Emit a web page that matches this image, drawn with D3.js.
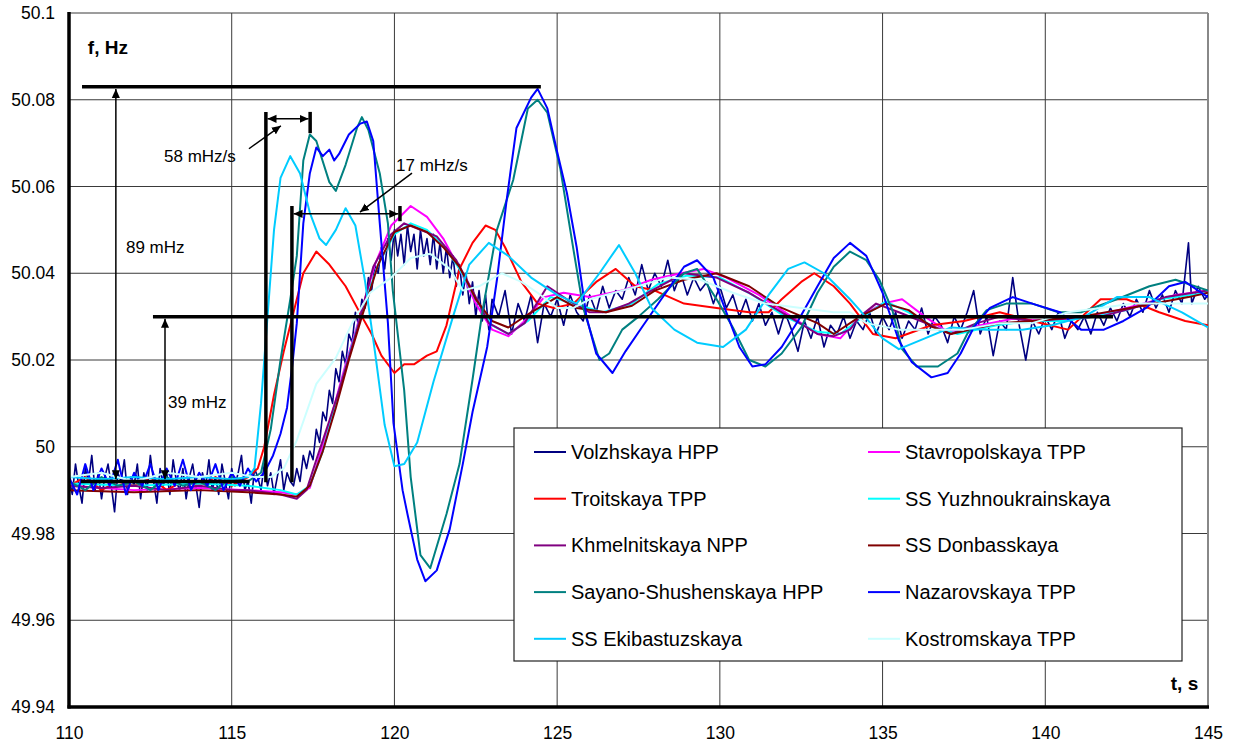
<!DOCTYPE html>
<meta charset="utf-8">
<head>
  <script src="https://d3js.org/d3.v7.min.js"></script>
  <style>
    body { margin: 0; background: #fff; font-family: Arial, "Liberation Sans", sans-serif; }
  </style>
</head>
<body>
<div id="my_dataviz"></div>
<script>

// axis ticks
var xTicks = [110, 115, 120, 125, 130, 135, 140, 145];
var xTickLabels = ["110", "115", "120", "125", "130", "135", "140", "145"];
var yTicks = [49.94, 49.96, 49.98, 50.00, 50.02, 50.04, 50.06, 50.08, 50.10];
var yTickLabels = ["49.94", "49.96", "49.98", "50", "50.02", "50.04", "50.06", "50.08", "50.1"];

// series names, legend order (left column then right column)
var seriesNames = ["Volzhskaya HPP", "Troitskaya TPP", "Khmelnitskaya NPP", "Sayano-Shushenskaya HPP", "SS Ekibastuzskaya",
                   "Stavropolskaya TPP", "SS Yuzhnoukrainskaya", "SS Donbasskaya", "Nazarovskaya TPP", "Kostromskaya TPP"];
var seriesColors = ["#000080", "#FF0000", "#800080", "#008080", "#00CCFF",
                    "#FF00FF", "#00FFFF", "#800000", "#0000FF", "#CCFFFF"];

// [t, f] points
var volzhskaya = [[110,49.993],[110.1,49.989],[110.2,49.996],[110.3,49.991],[110.4,49.987],[110.5,49.995],[110.6,49.992],[110.7,49.998],[110.8,49.990],[110.9,49.994],
  [111,49.988],[111.1,49.993],[111.2,49.996],[111.3,49.991],[111.4,49.985],[111.5,49.994],[111.6,49.992],[111.7,49.997],[111.8,49.989],[111.9,49.993],
  [112,49.991],[112.1,49.996],[112.2,49.988],[112.3,49.994],[112.4,49.990],[112.5,49.998],[112.6,49.992],[112.7,49.987],[112.8,49.995],[112.9,49.991],
  [113,49.994],[113.1,49.989],[113.2,49.997],[113.3,49.992],[113.4,49.990],[113.5,49.995],[113.6,49.988],[113.7,49.993],[113.8,49.996],[113.9,49.991],
  [114,49.986],[114.1,49.994],[114.2,49.991],[114.3,49.997],[114.4,49.990],[114.5,49.993],[114.6,49.989],[114.7,49.996],[114.8,49.992],[114.9,49.988],
  [115,49.995],[115.1,49.991],[115.2,49.994],[115.3,49.998],[115.4,49.990],[115.5,49.992],[115.6,49.987],[115.7,49.995],[115.8,49.993],[115.9,49.990],
  [116,49.996],[116.1,49.991],[116.2,49.994],[116.3,49.989],[116.4,49.993],[116.5,49.997],[116.6,49.990],[116.7,49.994],[116.8,49.992],
  [116.9,49.991],[117,49.995],[117.1,49.992],[117.2,49.998],[117.3,49.995],[117.4,49.999],[117.5,49.997],[117.6,50.004],[117.7,50.001],[117.8,50.008],[117.9,50.006],
  [118,50.013],[118.1,50.010],[118.2,50.018],[118.3,50.015],[118.4,50.022],[118.5,50.019],[118.6,50.026],[118.7,50.024],[118.8,50.031],[118.9,50.028],
  [119,50.034],[119.1,50.032],[119.2,50.039],[119.3,50.036],[119.4,50.042],[119.5,50.040],[119.6,50.046],[119.7,50.041],[119.8,50.048],[119.9,50.043],
  [120,50.050],[120.1,50.044],[120.2,50.049],[120.3,50.042],[120.4,50.051],[120.5,50.045],[120.6,50.049],[120.7,50.041],[120.8,50.050],[120.9,50.044],
  [121,50.048],[121.1,50.042],[121.2,50.049],[121.3,50.041],[121.4,50.047],[121.5,50.040],[121.6,50.046],[121.7,50.039],[121.8,50.044],[121.9,50.037],
  [122,50.042],[122.1,50.035],[122.2,50.040],[122.3,50.033],[122.4,50.038],[122.5,50.030],[122.6,50.036],[122.7,50.029],[122.8,50.035],[122.9,50.027],
  [123,50.034],[123.2,50.030],[123.4,50.036],[123.6,50.026],[123.8,50.033],[124,50.029],[124.2,50.035],[124.4,50.024],[124.6,50.033],[124.8,50.030],
  [125,50.034],[125.2,50.028],[125.4,50.035],[125.6,50.031],[125.8,50.029],[126,50.035],[126.2,50.031],[126.4,50.037],[126.6,50.032],[126.8,50.036],
  [127,50.034],[127.2,50.039],[127.4,50.035],[127.6,50.042],[127.8,50.036],[128,50.040],[128.2,50.037],[128.4,50.043],[128.6,50.036],[128.8,50.040],
  [129,50.035],[129.2,50.039],[129.4,50.036],[129.6,50.038],[129.8,50.033],[130,50.037],[130.2,50.032],[130.4,50.035],[130.6,50.030],[130.8,50.034],
  [131,50.029],[131.2,50.033],[131.4,50.028],[131.6,50.031],[131.8,50.026],[132,50.031],[132.2,50.027],[132.4,50.022],[132.6,50.029],[132.8,50.025],
  [133,50.030],[133.2,50.023],[133.4,50.028],[133.6,50.026],[133.8,50.030],[134,50.025],[134.2,50.029],[134.4,50.027],[134.6,50.031],[134.8,50.026],
  [135,50.030],[135.2,50.027],[135.4,50.031],[135.6,50.025],[135.8,50.029],[136,50.027],[136.2,50.032],[136.4,50.026],[136.6,50.030],[136.8,50.028],
  [137,50.024],[137.2,50.030],[137.4,50.027],[137.6,50.031],[137.8,50.036],[138,50.026],[138.2,50.030],[138.4,50.021],[138.6,50.029],[138.8,50.027],
  [139,50.039],[139.2,50.028],[139.4,50.020],[139.6,50.029],[139.8,50.026],[140,50.030],[140.2,50.027],[140.4,50.031],[140.6,50.025],[140.8,50.029],
  [141,50.027],[141.2,50.030],[141.4,50.026],[141.6,50.031],[141.8,50.028],[142,50.032],[142.2,50.029],[142.4,50.033],[142.6,50.030],[142.8,50.034],
  [143,50.031],[143.2,50.036],[143.4,50.032],[143.6,50.035],[143.8,50.031],[144,50.036],[144.2,50.033],[144.4,50.047],[144.5,50.033],[144.7,50.037],
  [144.9,50.034],[145,50.035]];
var troitskaya = [[110,49.991],[110.5,49.993],[111,49.990],[111.5,49.992],[112,49.991],[112.5,49.993],[113,49.990],[113.5,49.992],[114,49.991],[114.5,49.993],[115,49.991],[115.5,49.993],[115.8,49.995],[116,50.000],[116.3,50.012],[116.6,50.022],[116.9,50.031],[117.2,50.040],[117.6,50.045],[118,50.042],[118.5,50.037],[119,50.030],[119.3,50.026],[119.6,50.021],[120,50.017],[120.3,50.019],[120.6,50.019],[121,50.021],[121.3,50.022],[121.6,50.028],[122,50.041],[122.4,50.047],[122.8,50.051],[123.1,50.050],[123.4,50.046],[123.9,50.038],[124.4,50.033],[124.9,50.032],[125.5,50.033],[126.2,50.038],[126.8,50.041],[127.4,50.037],[128,50.036],[128.9,50.033],[129.9,50.032],[130.9,50.031],[131.5,50.031],[131.9,50.034],[132.5,50.038],[132.9,50.040],[133.5,50.037],[134,50.033],[134.7,50.026],[135.4,50.025],[136.5,50.028],[137.5,50.029],[138.6,50.031],[139.6,50.029],[140.7,50.027],[141.7,50.034],[142.5,50.034],[143.5,50.031],[144.3,50.029],[145,50.028]];
var khmelnitskaya = [[110,49.991],[111,49.9905],[112,49.991],[113,49.990],[114,49.991],[115,49.990],[115.5,49.990],[116,49.9895],[116.5,49.989],[117,49.988],[117.3,49.990],[117.6,49.997],[118,50.006],[118.3,50.013],[118.85,50.027],[119.35,50.0415],[119.9,50.049],[120.3,50.0515],[120.8,50.050],[121.3,50.0485],[121.9,50.043],[122.4,50.036],[122.9,50.0285],[123.5,50.026],[124,50.0285],[124.7,50.037],[125.3,50.034],[126,50.031],[126.5,50.031],[127.2,50.033],[127.9,50.036],[128.9,50.040],[129.9,50.039],[130.9,50.0355],[131.9,50.031],[133,50.026],[133.5,50.0255],[134,50.027],[134.3,50.030],[134.8,50.033],[135.5,50.031],[136.5,50.028],[137.1,50.026],[137.9,50.0285],[138.6,50.030],[139.6,50.029],[140.6,50.0295],[141.7,50.030],[142.7,50.032],[143.7,50.0345],[145,50.036]];
var sayano = [[110,49.992],[110.5,49.990],[111,49.993],[111.5,49.991],[112,49.992],[112.5,49.990],[113,49.993],[113.5,49.991],[114,49.992],[114.5,49.990],[115,49.993],[115.5,49.992],[115.9,49.994],[116.2,50.004],[116.5,50.020],[116.8,50.034],[117,50.044],[117.2,50.066],[117.4,50.072],[117.6,50.0705],[118,50.061],[118.2,50.059],[118.5,50.065],[118.85,50.0735],[119,50.076],[119.2,50.073],[119.55,50.063],[119.8,50.0515],[119.95,50.036],[120.3,50.013],[120.5,49.993],[120.8,49.975],[121.1,49.972],[121.6,49.9845],[122,49.996],[122.4,50.0155],[122.7,50.031],[123.15,50.050],[123.65,50.0615],[124.1,50.078],[124.4,50.080],[124.7,50.077],[125.1,50.064],[125.5,50.0455],[125.8,50.032],[126.3,50.020],[126.6,50.0215],[127,50.027],[127.5,50.030],[128.1,50.034],[128.9,50.040],[129.3,50.041],[129.9,50.034],[130.4,50.0275],[130.9,50.020],[131.4,50.0185],[131.9,50.0215],[132.5,50.0275],[133,50.0355],[133.5,50.0415],[134,50.045],[134.5,50.043],[134.9,50.0385],[135.3,50.0315],[135.6,50.0225],[136.05,50.0185],[136.7,50.0185],[137.3,50.0215],[137.6,50.026],[138.2,50.0315],[138.8,50.033],[139.6,50.033],[140.4,50.031],[141.1,50.031],[142.2,50.034],[143.2,50.037],[144,50.0385],[145,50.036]];
var ekibastuz = [[110,49.993],[111,49.9925],[112,49.993],[113,49.9925],[114,49.993],[115,49.9925],[115.5,49.993],[115.7,49.995],[115.9,50.010],[116.1,50.030],[116.3,50.050],[116.5,50.062],[116.8,50.067],[117.1,50.063],[117.4,50.054],[117.7,50.048],[117.9,50.0465],[118.2,50.050],[118.5,50.055],[118.8,50.051],[119.1,50.038],[119.4,50.022],[119.7,50.005],[120,49.9955],[120.3,49.996],[120.7,50.001],[121.2,50.015],[121.8,50.030],[122.3,50.042],[122.9,50.047],[123.5,50.044],[124.2,50.039],[125,50.035],[125.6,50.033],[126.3,50.040],[126.9,50.0465],[127.4,50.040],[127.9,50.032],[128.6,50.027],[129.3,50.024],[130.1,50.023],[130.8,50.027],[131.5,50.035],[132.1,50.041],[132.6,50.0425],[133.2,50.040],[134,50.034],[134.3,50.0315],[135,50.025],[135.5,50.0225],[136.3,50.025],[137.1,50.0275],[138.2,50.027],[139.3,50.027],[140.2,50.028],[141.2,50.030],[142.2,50.0345],[143.2,50.0345],[144.2,50.031],[145,50.0275]];
var stavropolskaya = [[110,49.991],[112,49.990],[114,49.9905],[115.5,49.990],[116.5,49.9895],[117,49.989],[117.4,49.9905],[117.7,49.998],[118.1,50.008],[118.5,50.019],[118.9,50.029],[119.4,50.042],[119.9,50.051],[120.5,50.0555],[121,50.053],[121.5,50.048],[122,50.041],[122.5,50.033],[123,50.027],[123.5,50.0255],[124,50.029],[124.6,50.0345],[125.2,50.0355],[126,50.0345],[127,50.036],[127.9,50.0385],[128.8,50.040],[129.5,50.041],[130.2,50.039],[131.2,50.035],[132.2,50.030],[133,50.026],[133.7,50.025],[134.3,50.030],[135,50.033],[135.6,50.034],[136.3,50.030],[137,50.0265],[138,50.028],[139,50.0295],[140,50.029],[141,50.0295],[142,50.031],[143,50.033],[144,50.035],[145,50.036]];
var yuzhnoukrainskaya = [[110,49.9915],[112,49.991],[114,49.9915],[115.5,49.991],[116.5,49.990],[117,49.989],[117.4,49.991],[117.8,49.999],[118.2,50.010],[118.6,50.021],[119,50.031],[119.5,50.042],[120,50.049],[120.5,50.0515],[121,50.050],[121.5,50.0465],[122,50.041],[122.5,50.034],[123,50.028],[123.5,50.026],[124.1,50.029],[124.8,50.0345],[125.5,50.033],[126.4,50.031],[127.3,50.033],[128.1,50.0375],[129,50.0395],[130,50.039],[131,50.035],[132,50.030],[133,50.0265],[133.7,50.026],[134.4,50.030],[135.1,50.0335],[135.8,50.031],[136.6,50.0275],[137.3,50.026],[138.5,50.028],[139.5,50.029],[140.5,50.029],[141.5,50.030],[142.5,50.0315],[143.5,50.034],[145,50.0355]];
var donbasskaya = [[110,49.990],[112,49.9895],[114,49.990],[115.5,49.9895],[116.5,49.989],[117,49.9885],[117.4,49.991],[117.8,49.999],[118.2,50.009],[118.6,50.020],[119,50.030],[119.5,50.042],[120,50.0495],[120.5,50.051],[121,50.0495],[121.5,50.046],[122,50.0415],[122.5,50.034],[123,50.029],[123.5,50.0275],[124.2,50.031],[125,50.0345],[125.6,50.032],[126.5,50.031],[127.3,50.0325],[128,50.036],[128.9,50.0385],[129.9,50.040],[130.9,50.037],[131.9,50.032],[133,50.0285],[133.5,50.026],[134.3,50.030],[135.1,50.033],[135.8,50.0315],[136.5,50.0277],[137.1,50.026],[138.6,50.0285],[139.6,50.029],[141.1,50.030],[142.6,50.032],[144.4,50.0345],[145,50.0355]];
var nazarovskaya = [[110,49.993],[110.25,49.989],[110.5,49.996],[110.75,49.990],[111,49.995],[111.25,49.991],[111.5,49.997],[111.75,49.989],[112,49.994],[112.25,49.991],[112.5,49.996],[112.75,49.990],[113,49.995],[113.25,49.991],[113.5,49.997],[113.75,49.990],[114,49.994],[114.25,49.991],[114.5,49.996],[114.75,49.990],[115,49.994],[115.25,49.991],[115.5,49.995],[115.75,49.992],[116,49.994],[116.27,49.998],[116.5,50.003],[116.7,50.009],[116.85,50.018],[117,50.0285],[117.2,50.0515],[117.4,50.063],[117.6,50.069],[117.8,50.067],[118,50.0685],[118.15,50.066],[118.3,50.0675],[118.6,50.072],[118.95,50.0745],[119.15,50.075],[119.35,50.0705],[119.55,50.0515],[119.8,50.0285],[119.97,50.0055],[120.25,49.990],[120.4,49.9845],[120.7,49.974],[120.95,49.969],[121.3,49.9715],[121.7,49.981],[122.1,49.996],[122.4,50.008],[122.85,50.023],[123.15,50.0385],[123.45,50.057],[123.75,50.0735],[124.2,50.0805],[124.4,50.0825],[124.7,50.078],[125,50.068],[125.3,50.0585],[125.6,50.046],[125.9,50.030],[126.2,50.0215],[126.7,50.017],[127.1,50.022],[127.6,50.0275],[128.2,50.034],[128.9,50.0415],[129.3,50.043],[129.8,50.039],[130.2,50.031],[130.6,50.023],[131,50.0185],[131.4,50.019],[131.9,50.023],[132.4,50.029],[133,50.037],[133.5,50.0435],[134,50.047],[134.5,50.044],[135,50.0355],[135.5,50.0245],[135.9,50.0195],[136.5,50.016],[137,50.017],[137.4,50.0215],[137.8,50.0275],[138.3,50.032],[139,50.0345],[139.6,50.033],[140.45,50.031],[141.1,50.027],[141.8,50.027],[142.4,50.029],[143.1,50.032],[143.8,50.037],[144.3,50.038],[145,50.0345]];
var kostromskaya = [[110,49.993],[111,49.994],[112,49.992],[113,49.994],[114,49.993],[115,49.994],[115.7,49.993],[116.2,49.993],[116.6,49.995],[117,50.0015],[117.6,50.0145],[118.2,50.0205],[118.7,50.0285],[119.25,50.0355],[119.9,50.039],[120.5,50.0435],[121.1,50.0445],[121.7,50.041],[122.1,50.036],[122.6,50.037],[123.3,50.040],[123.9,50.038],[124.4,50.0355],[125,50.032],[125.5,50.032],[126,50.034],[127,50.036],[128.4,50.039],[129.4,50.0385],[130.4,50.0355],[131.4,50.033],[132.5,50.032],[133.5,50.031],[134,50.031],[134.5,50.0285],[135.5,50.027],[136.5,50.027],[137.5,50.027],[138.6,50.0285],[139.6,50.0285],[140.7,50.031],[141.7,50.032],[142.7,50.033],[144,50.033],[145,50.033]];

var seriesData = [volzhskaya, troitskaya, khmelnitskaya, sayano, ekibastuz,
                  stavropolskaya, yuzhnoukrainskaya, donbasskaya, nazarovskaya, kostromskaya];
// drawing order (later on top)
var drawOrder = [0, 5, 1, 6, 2, 7, 3, 8, 4, 9];

// annotation levels (Hz)
var peakLevel = 50.083, steadyLevel = 50.030, baseLevel = 49.992;

var margin = {top: 13, right: 29, bottom: 40, left: 69},
    width = 1139,
    height = 694;

var svg = d3.select("#my_dataviz")
  .append("svg")
    .attr("width", 1237)
    .attr("height", 747)
  .append("g")
    .attr("transform", "translate(" + margin.left + "," + margin.top + ")");

var x = d3.scaleLinear().domain([110, 145]).range([0, width]);
var y = d3.scaleLinear().domain([49.94, 50.1]).range([height, 0]);

// grid
svg.append("g").selectAll("line").data(yTicks).enter().append("line")
  .attr("x1", 0).attr("x2", width)
  .attr("y1", function(d) { return y(d); }).attr("y2", function(d) { return y(d); })
  .attr("stroke", "#3a3a3a").attr("stroke-width", 1);
svg.append("g").selectAll("line").data(xTicks).enter().append("line")
  .attr("y1", 0).attr("y2", height)
  .attr("x1", function(d) { return x(d); }).attr("x2", function(d) { return x(d); })
  .attr("stroke", "#3a3a3a").attr("stroke-width", 1);
svg.append("line").attr("x1", width).attr("x2", width).attr("y1", 0).attr("y2", height)
  .attr("stroke", "#888").attr("stroke-width", 2);

// clip
svg.append("clipPath").attr("id", "clip").append("rect")
  .attr("width", width).attr("height", height);

var line = d3.line()
  .x(function(d) { return x(d[0]); })
  .y(function(d) { return y(d[1]); });

svg.append("g").attr("clip-path", "url(#clip)")
  .selectAll("path").data(drawOrder).enter().append("path")
    .attr("d", function(i) { return line(seriesData[i]); })
    .attr("fill", "none")
    .attr("stroke", function(i) { return seriesColors[i]; })
    .attr("stroke-width", function(i) { return i === 0 ? 1.6 : 2; })
    .attr("stroke-linejoin", "round");

// axes
var yAxis = svg.append("g")
  .call(d3.axisLeft(y).tickValues(yTicks).tickSize(0).tickPadding(14)
    .tickFormat(function(d, i) { return yTickLabels[i]; }));
var xAxis = svg.append("g")
  .attr("transform", "translate(0," + height + ")")
  .call(d3.axisBottom(x).tickValues(xTicks).tickSize(0).tickPadding(20)
    .tickFormat(function(d, i) { return xTickLabels[i]; }));
[xAxis, yAxis].forEach(function(a) {
  a.select(".domain").remove();
  a.selectAll("text").style("font-size", "17.5px").style("font-family", "Arial, 'Liberation Sans', sans-serif").attr("fill", "#000");
});
svg.append("line").attr("x1", 0).attr("x2", 0).attr("y1", -1).attr("y2", height + 1.5)
  .attr("stroke", "#000").attr("stroke-width", 3.5);
svg.append("line").attr("x1", -1.5).attr("x2", width + 1).attr("y1", height).attr("y2", height)
  .attr("stroke", "#000").attr("stroke-width", 3.5);

svg.append("text").attr("x", x(110.58)).attr("y", y(50.0905))
  .text("f, Hz").style("font-size", "19px").style("font-weight", "bold");
svg.append("text").attr("x", x(144.7)).attr("y", y(49.944)).attr("text-anchor", "end")
  .text("t, s").style("font-size", "19px").style("font-weight", "bold");

// arrow markers
var defs = svg.append("defs");
defs.append("marker").attr("id", "arr").attr("viewBox", "0 0 10 10")
  .attr("refX", 10).attr("refY", 5).attr("markerWidth", 9).attr("markerHeight", 9)
  .attr("markerUnits", "userSpaceOnUse").attr("orient", "auto-start-reverse")
  .append("path").attr("d", "M0,0.5L10,5L0,9.5Z").attr("fill", "#000");

var ann = svg.append("g");
function seg(t1, v1, t2, v2, w, marks) {
  var l = ann.append("line")
    .attr("x1", x(t1)).attr("y1", y(v1)).attr("x2", x(t2)).attr("y2", y(v2))
    .attr("stroke", "#000").attr("stroke-width", w);
  if (marks === "both") l.attr("marker-start", "url(#arr)").attr("marker-end", "url(#arr)");
  if (marks === "end") l.attr("marker-end", "url(#arr)");
  return l;
}
// level lines
seg(110.40, peakLevel, 124.50, peakLevel, 3.5);
seg(112.58, steadyLevel, 142.08, steadyLevel, 3.5);
seg(110.36, baseLevel, 115.55, baseLevel, 3.5);
// deviation arrows
seg(111.44, peakLevel - 0.0005, 111.44, baseLevel + 0.0005, 1.5, "both");
seg(112.95, steadyLevel - 0.0005, 112.95, baseLevel + 0.0005, 1.5, "both");
// rate brackets
seg(116.05, 50.0772, 116.05, baseLevel - 0.0002, 3.5);
seg(117.41, 50.0772, 117.41, 50.0723, 3.5);
seg(116.10, 50.0756, 117.36, 50.0756, 1.5, "both");
seg(115.53, 50.0687, 116.51, 50.0740, 1.5, "end");
seg(116.85, 50.0555, 116.85, baseLevel - 0.0002, 3.5);
seg(120.17, 50.0555, 120.17, 50.0520, 3.5);
seg(116.90, 50.0537, 120.12, 50.0537, 1.5, "both");
seg(120.54, 50.0631, 118.94, 50.0541, 1.5, "end");

var annText = [
  {t: 112.92, v: 50.0657, s: "58 mHz/s"},
  {t: 120.05, v: 50.0636, s: "17 mHz/s"},
  {t: 111.75, v: 50.0447, s: "89 mHz"},
  {t: 113.04, v: 50.0089, s: "39 mHz"}
];
ann.selectAll("text.a").data(annText).enter().append("text")
  .attr("x", function(d) { return x(d.t); }).attr("y", function(d) { return y(d.v); })
  .text(function(d) { return d.s; }).style("font-size", "17px");

// legend
var lg = svg.append("g").attr("transform", "translate(" + (514 - margin.left) + "," + (428 - margin.top) + ")");
lg.append("rect").attr("width", 668).attr("height", 233)
  .attr("fill", "#fff").attr("stroke", "#222").attr("stroke-width", 1.2);
var items = lg.selectAll("g.item").data(seriesNames).enter().append("g")
  .attr("transform", function(d, i) {
    return "translate(" + (i < 5 ? 20 : 354) + "," + (24 + (i % 5) * 46.7) + ")";
  });
items.append("line").attr("x1", 0).attr("x2", 32).attr("y1", 0).attr("y2", 0)
  .attr("stroke", function(d, i) { return seriesColors[i]; }).attr("stroke-width", 2);
items.append("text").attr("x", 37).attr("y", 7).text(function(d) { return d; })
  .style("font-size", "20px");

</script>
</body>
